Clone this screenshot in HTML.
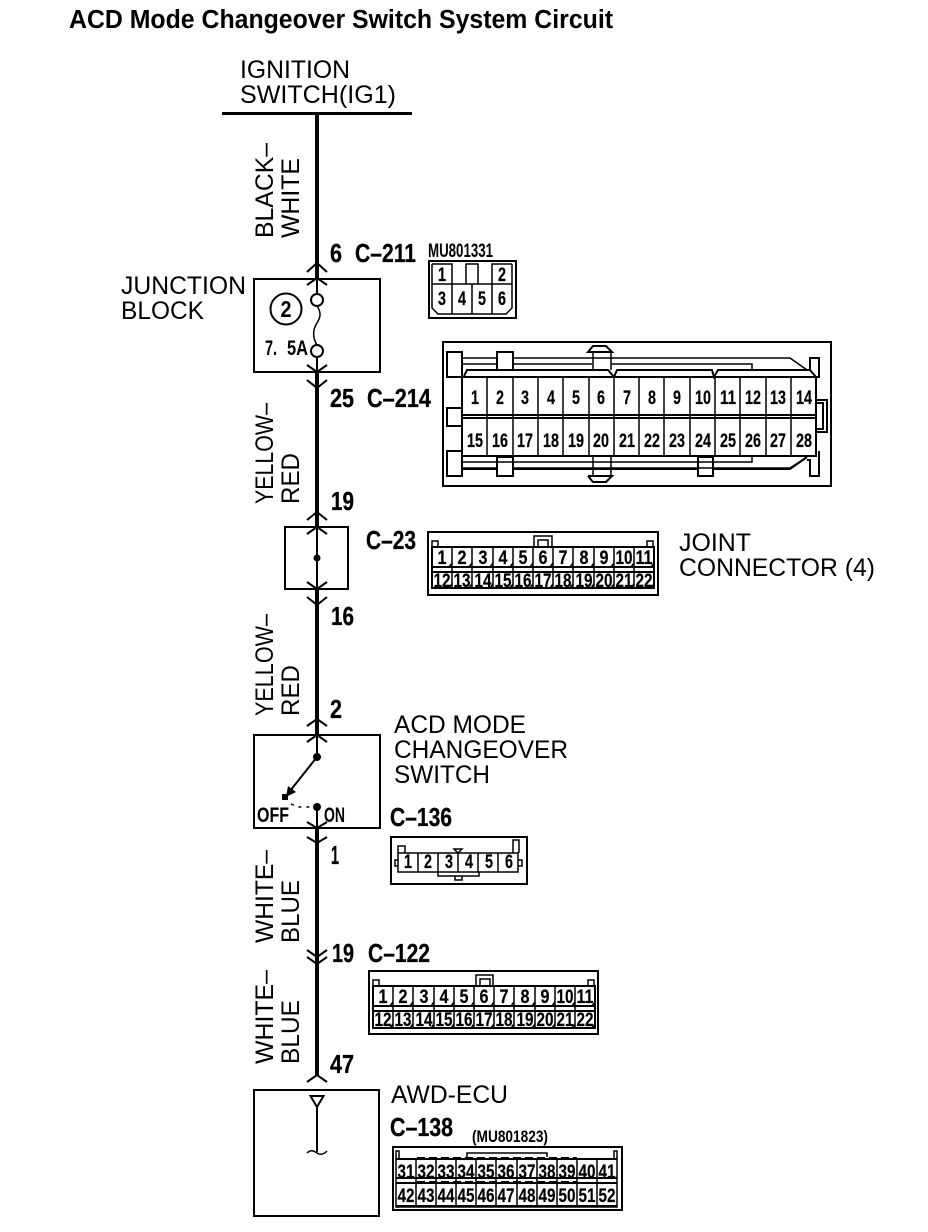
<!DOCTYPE html>
<html>
<head>
<meta charset="utf-8">
<title>ACD Mode Changeover Switch System Circuit</title>
<style>
html,body{margin:0;padding:0;background:#fff;width:928px;height:1232px;overflow:hidden}
svg{display:block}
text{font-family:"Liberation Sans",sans-serif;fill:#000}
.t{font-size:25px;font-weight:400}
.b{font-size:26px;font-weight:700;stroke:#000;stroke-width:.3}
.d{font-size:19px;font-weight:700;text-anchor:middle;stroke:#000;stroke-width:.2}
.s{font-size:17px;font-weight:700}
.n{font-size:21px;font-weight:700}
.l{fill:none;stroke:#000;stroke-width:1.5}
.m{fill:none;stroke:#000;stroke-width:2}
.h{fill:none;stroke:#000;stroke-width:2.5}
</style>
</head>
<body>
<svg width="928" height="1232" viewBox="0 0 928 1232" xmlns="http://www.w3.org/2000/svg">
<rect width="928" height="1232" fill="#fff"/>

<text x="69" y="28" font-size="25.5" font-weight="700" textLength="544" lengthAdjust="spacingAndGlyphs">ACD Mode Changeover Switch System Circuit</text>

<!-- top -->
<text class="t" x="240" y="78" textLength="110" lengthAdjust="spacingAndGlyphs">IGNITION</text>
<text class="t" x="240" y="103" textLength="156" lengthAdjust="spacingAndGlyphs">SWITCH(IG1)</text>
<rect x="222" y="112" width="190" height="3"/>

<!-- main wire segments -->
<rect x="315" y="113" width="4" height="165"/>
<rect x="315" y="372" width="4" height="155"/>
<rect x="315" y="589" width="4" height="145"/>
<rect x="315" y="828" width="4" height="247"/>

<!-- rotated labels -->
<text class="t" transform="translate(273,238) rotate(-90)" textLength="95" lengthAdjust="spacingAndGlyphs">BLACK–</text>
<text class="t" transform="translate(299,238) rotate(-90)" textLength="80" lengthAdjust="spacingAndGlyphs">WHITE</text>
<text class="t" transform="translate(273,504) rotate(-90)" textLength="101" lengthAdjust="spacingAndGlyphs">YELLOW–</text>
<text class="t" transform="translate(299,504) rotate(-90)" textLength="51" lengthAdjust="spacingAndGlyphs">RED</text>
<text class="t" transform="translate(273,716) rotate(-90)" textLength="102" lengthAdjust="spacingAndGlyphs">YELLOW–</text>
<text class="t" transform="translate(299,716) rotate(-90)" textLength="51" lengthAdjust="spacingAndGlyphs">RED</text>
<text class="t" transform="translate(273,943) rotate(-90)" textLength="93" lengthAdjust="spacingAndGlyphs">WHITE–</text>
<text class="t" transform="translate(299,943) rotate(-90)" textLength="63" lengthAdjust="spacingAndGlyphs">BLUE</text>
<text class="t" transform="translate(273,1064) rotate(-90)" textLength="94" lengthAdjust="spacingAndGlyphs">WHITE–</text>
<text class="t" transform="translate(299,1064) rotate(-90)" textLength="64" lengthAdjust="spacingAndGlyphs">BLUE</text>

<!-- pin labels -->
<text class="b" x="330" y="262" textLength="12" lengthAdjust="spacingAndGlyphs">6</text>
<text class="b" x="355" y="262" textLength="61" lengthAdjust="spacingAndGlyphs">C–211</text>
<text class="b" x="330" y="407" textLength="24" lengthAdjust="spacingAndGlyphs">25</text>
<text class="b" x="367" y="407" textLength="64" lengthAdjust="spacingAndGlyphs">C–214</text>
<text class="b" x="331" y="510" textLength="23" lengthAdjust="spacingAndGlyphs">19</text>
<text class="b" x="366" y="549" textLength="50" lengthAdjust="spacingAndGlyphs">C–23</text>
<text class="b" x="331" y="625" textLength="23" lengthAdjust="spacingAndGlyphs">16</text>
<text class="b" x="330" y="718" textLength="12" lengthAdjust="spacingAndGlyphs">2</text>
<text class="b" x="390" y="826" textLength="62" lengthAdjust="spacingAndGlyphs">C–136</text>
<text class="b" x="331" y="864" textLength="8" lengthAdjust="spacingAndGlyphs">1</text>
<text class="b" x="332" y="962" textLength="22" lengthAdjust="spacingAndGlyphs">19</text>
<text class="b" x="368" y="962" textLength="62" lengthAdjust="spacingAndGlyphs">C–122</text>
<text class="b" x="330" y="1073" textLength="24" lengthAdjust="spacingAndGlyphs">47</text>
<text class="b" x="390" y="1136" textLength="63" lengthAdjust="spacingAndGlyphs">C–138</text>

<!-- chevrons -->
<path class="m" d="M307 272L317 263L327 272M307 285L317 278L327 285M307 365L317 372L327 365M307 380L317 388L327 380"/>
<path class="m" d="M307 520L317 512L327 520M307 534L317 527L327 534M307 582L317 589L327 582M307 597L317 605L327 597"/>
<path class="m" d="M307 726L317 719L327 726M307 742L317 735L327 742M307 822L317 828L327 822M307 837L317 843L327 837"/>
<path class="m" d="M307 950L317 957L327 950M307 957L317 964L327 957M307 1082L317 1075L327 1082"/>

<!-- Junction block -->
<text class="t" x="121" y="294" textLength="125" lengthAdjust="spacingAndGlyphs">JUNCTION</text>
<text class="t" x="121" y="319" textLength="83" lengthAdjust="spacingAndGlyphs">BLOCK</text>
<rect class="m" x="254" y="279" width="126" height="93"/>
<circle class="m" cx="286" cy="309" r="15.5"/>
<text x="286" y="317" font-size="23" font-weight="700" text-anchor="middle" textLength="11" lengthAdjust="spacingAndGlyphs">2</text>
<text class="n" x="265" y="355" textLength="12" lengthAdjust="spacingAndGlyphs">7.</text>
<text class="n" x="287" y="355" textLength="21" lengthAdjust="spacingAndGlyphs">5A</text>
<circle class="m" cx="317" cy="300" r="6"/>
<circle class="m" cx="317" cy="351" r="6"/>
<path class="m" d="M317 278V294M317 357V372"/>
<path class="l" d="M317 306C322 313 320 318 317 323C313 329 312 337 317 345"/>

<!-- MU801331 connector -->
<text class="s" x="428" y="257" style="font-size:19px" textLength="65" lengthAdjust="spacingAndGlyphs">MU801331</text>
<rect class="m" x="429" y="261" width="87" height="57"/>
<path class="l" d="M432 264V308L438 314H506L512 308V264M432 264H452V284M492 284V264H512M432 284H512M452 284V314M472 284V314M492 284V314M466 284V264H478V284"/>
<text class="d" x="442" y="281" textLength="8" lengthAdjust="spacingAndGlyphs">1</text>
<text class="d" x="502" y="281" textLength="8" lengthAdjust="spacingAndGlyphs">2</text>
<text class="d" x="442" y="305" textLength="8" lengthAdjust="spacingAndGlyphs">3</text>
<text class="d" x="462" y="305" textLength="8" lengthAdjust="spacingAndGlyphs">4</text>
<text class="d" x="482" y="305" textLength="8" lengthAdjust="spacingAndGlyphs">5</text>
<text class="d" x="502" y="305" textLength="8" lengthAdjust="spacingAndGlyphs">6</text>

<!-- C-214 connector -->
<rect class="m" x="443" y="342" width="388" height="144"/>
<rect class="m" x="447" y="352" width="15" height="25"/>
<rect class="m" x="447" y="408" width="15" height="18"/>
<rect class="m" x="447" y="451" width="15" height="25"/>
<rect class="m" x="497" y="352" width="16" height="18"/>
<rect class="m" x="497" y="457" width="16" height="19"/>
<rect class="m" x="698" y="457" width="15" height="19"/>
<path class="l" d="M462 358H497M513 358H790L807 370M513 364H592M611 364H752V370M462 364H497"/>
<path class="l" d="M593 352V370M611 352V370M593 457V476M611 457V476"/>
<path class="m" d="M592 352H588L593 346H606L612 352H592M588 476L593 482H606L612 476H588"/>
<path class="m" d="M464 376L467 370H608L614 377L617 370H712L714 377L718 370H810L816 377"/>
<path class="m" d="M807 370H810V358H819V377H812"/>
<path class="m" d="M816 400H827V432H816M816 403H823V429H816"/>
<path class="m" d="M462 377H816V456H462Z"/>
<path class="m" d="M462 415H816M462 418H816"/>
<path class="l" d="M462 462H752V457M513 468H790L807 457M462 468H497"/>
<path class="m" d="M462 469H497M513 469H698M713 469H790L807 457M807 460H810V476H819V451"/>
<path class="l" d="M487 377V456M513 377V456M538 377V456M563 377V456M589 377V456M614 377V456M639 377V456M664 377V456M690 377V456M715 377V456M740 377V456M766 377V456M791 377V456"/>
<g>
<text class="d" x="475" y="404" textLength="8" lengthAdjust="spacingAndGlyphs">1</text>
<text class="d" x="500" y="404" textLength="8" lengthAdjust="spacingAndGlyphs">2</text>
<text class="d" x="525" y="404" textLength="8" lengthAdjust="spacingAndGlyphs">3</text>
<text class="d" x="551" y="404" textLength="8" lengthAdjust="spacingAndGlyphs">4</text>
<text class="d" x="576" y="404" textLength="8" lengthAdjust="spacingAndGlyphs">5</text>
<text class="d" x="601" y="404" textLength="8" lengthAdjust="spacingAndGlyphs">6</text>
<text class="d" x="627" y="404" textLength="8" lengthAdjust="spacingAndGlyphs">7</text>
<text class="d" x="652" y="404" textLength="8" lengthAdjust="spacingAndGlyphs">8</text>
<text class="d" x="677" y="404" textLength="8" lengthAdjust="spacingAndGlyphs">9</text>
<text class="d" x="703" y="404" textLength="16" lengthAdjust="spacingAndGlyphs">10</text>
<text class="d" x="728" y="404" textLength="16" lengthAdjust="spacingAndGlyphs">11</text>
<text class="d" x="753" y="404" textLength="16" lengthAdjust="spacingAndGlyphs">12</text>
<text class="d" x="778" y="404" textLength="16" lengthAdjust="spacingAndGlyphs">13</text>
<text class="d" x="804" y="404" textLength="16" lengthAdjust="spacingAndGlyphs">14</text>
<text class="d" x="475" y="447" textLength="16" lengthAdjust="spacingAndGlyphs">15</text>
<text class="d" x="500" y="447" textLength="16" lengthAdjust="spacingAndGlyphs">16</text>
<text class="d" x="525" y="447" textLength="16" lengthAdjust="spacingAndGlyphs">17</text>
<text class="d" x="551" y="447" textLength="16" lengthAdjust="spacingAndGlyphs">18</text>
<text class="d" x="576" y="447" textLength="16" lengthAdjust="spacingAndGlyphs">19</text>
<text class="d" x="601" y="447" textLength="16" lengthAdjust="spacingAndGlyphs">20</text>
<text class="d" x="627" y="447" textLength="16" lengthAdjust="spacingAndGlyphs">21</text>
<text class="d" x="652" y="447" textLength="16" lengthAdjust="spacingAndGlyphs">22</text>
<text class="d" x="677" y="447" textLength="16" lengthAdjust="spacingAndGlyphs">23</text>
<text class="d" x="703" y="447" textLength="16" lengthAdjust="spacingAndGlyphs">24</text>
<text class="d" x="728" y="447" textLength="16" lengthAdjust="spacingAndGlyphs">25</text>
<text class="d" x="753" y="447" textLength="16" lengthAdjust="spacingAndGlyphs">26</text>
<text class="d" x="778" y="447" textLength="16" lengthAdjust="spacingAndGlyphs">27</text>
<text class="d" x="804" y="447" textLength="16" lengthAdjust="spacingAndGlyphs">28</text>
</g>

<!-- C-23 block -->
<rect class="m" x="285" y="527" width="63" height="62"/>
<path class="m" d="M317 527V589"/>
<circle cx="317" cy="558" r="3.5"/>

<!-- C-23 connector -->
<g id="c23">
<rect class="m" x="428" y="532" width="230" height="63"/>
<path class="m" d="M432 547H654V588H432ZM432 567H654M432 572H654"/>
<path class="l" d="M432 547V541H438V547M647 547V541H653V547M534 547V536H552V547M538 547V540H548V547"/>
<path class="l" d="M452 547V588M472 547V588M493 547V588M513 547V588M533 547V588M553 547V588M573 547V588M594 547V588M614 547V588M634 547V588"/>
<path class="l" d="M449 567L452 563M469 567L472 563M490 567L493 563M510 567L513 563M530 567L533 563M550 567L553 563M570 567L573 563M591 567L594 563M611 567L614 563M631 567L634 563M651 567L654 563M449 588L452 584M469 588L472 584M490 588L493 584M510 588L513 584M530 588L533 584M550 588L553 584M570 588L573 584M591 588L594 584M611 588L614 584M631 588L634 584M651 588L654 584"/>
<text class="d" x="442" y="564" textLength="9" lengthAdjust="spacingAndGlyphs">1</text>
<text class="d" x="462" y="564" textLength="9" lengthAdjust="spacingAndGlyphs">2</text>
<text class="d" x="483" y="564" textLength="9" lengthAdjust="spacingAndGlyphs">3</text>
<text class="d" x="503" y="564" textLength="9" lengthAdjust="spacingAndGlyphs">4</text>
<text class="d" x="523" y="564" textLength="9" lengthAdjust="spacingAndGlyphs">5</text>
<text class="d" x="543" y="564" textLength="9" lengthAdjust="spacingAndGlyphs">6</text>
<text class="d" x="563" y="564" textLength="9" lengthAdjust="spacingAndGlyphs">7</text>
<text class="d" x="584" y="564" textLength="9" lengthAdjust="spacingAndGlyphs">8</text>
<text class="d" x="604" y="564" textLength="9" lengthAdjust="spacingAndGlyphs">9</text>
<text class="d" x="624" y="564" textLength="17" lengthAdjust="spacingAndGlyphs">10</text>
<text class="d" x="644" y="564" textLength="17" lengthAdjust="spacingAndGlyphs">11</text>
<text class="d" x="442" y="587" textLength="17" lengthAdjust="spacingAndGlyphs">12</text>
<text class="d" x="462" y="587" textLength="17" lengthAdjust="spacingAndGlyphs">13</text>
<text class="d" x="483" y="587" textLength="17" lengthAdjust="spacingAndGlyphs">14</text>
<text class="d" x="503" y="587" textLength="17" lengthAdjust="spacingAndGlyphs">15</text>
<text class="d" x="523" y="587" textLength="17" lengthAdjust="spacingAndGlyphs">16</text>
<text class="d" x="543" y="587" textLength="17" lengthAdjust="spacingAndGlyphs">17</text>
<text class="d" x="563" y="587" textLength="17" lengthAdjust="spacingAndGlyphs">18</text>
<text class="d" x="584" y="587" textLength="17" lengthAdjust="spacingAndGlyphs">19</text>
<text class="d" x="604" y="587" textLength="17" lengthAdjust="spacingAndGlyphs">20</text>
<text class="d" x="624" y="587" textLength="17" lengthAdjust="spacingAndGlyphs">21</text>
<text class="d" x="644" y="587" textLength="17" lengthAdjust="spacingAndGlyphs">22</text>
</g>
<text class="t" x="679" y="551" textLength="72" lengthAdjust="spacingAndGlyphs">JOINT</text>
<text class="t" x="679" y="576" textLength="196" lengthAdjust="spacingAndGlyphs">CONNECTOR (4)</text>

<!-- Switch block -->
<text class="t" x="394" y="733" textLength="132" lengthAdjust="spacingAndGlyphs">ACD MODE</text>
<text class="t" x="394" y="758" textLength="174" lengthAdjust="spacingAndGlyphs">CHANGEOVER</text>
<text class="t" x="394" y="783" textLength="96" lengthAdjust="spacingAndGlyphs">SWITCH</text>
<rect class="m" x="254" y="735" width="126" height="93"/>
<path class="m" d="M317 735V757M317 757L286 796M317 807V828"/>
<circle cx="317" cy="757" r="4"/>
<circle cx="317" cy="807" r="4"/>
<rect x="282" y="794" width="6" height="6"/>
<path d="M286 797L288 786L296 792Z"/>
<path class="l" stroke-dasharray="3 5" d="M291 804L298 807H313"/>
<text class="n" x="257" y="822" textLength="32" lengthAdjust="spacingAndGlyphs">OFF</text>
<text class="n" x="324" y="822" textLength="21" lengthAdjust="spacingAndGlyphs">ON</text>

<!-- C-136 connector -->
<rect class="m" x="391" y="837" width="136" height="47"/>
<path class="l" d="M398 853H518V872H398ZM418 853V872M438 853V872M458 853V872M478 853V872M498 853V872"/>
<path class="l" d="M398 853V846H405V853M513 853V840H519V853M398 860H395V866H398M518 860H522V866H518M454 849H462L458 853ZM438 872V876H479V872M455 876V880H462V876"/>
<text class="d" x="408" y="868" textLength="8" lengthAdjust="spacingAndGlyphs">1</text>
<text class="d" x="428" y="868" textLength="8" lengthAdjust="spacingAndGlyphs">2</text>
<text class="d" x="449" y="868" textLength="8" lengthAdjust="spacingAndGlyphs">3</text>
<text class="d" x="469" y="868" textLength="8" lengthAdjust="spacingAndGlyphs">4</text>
<text class="d" x="489" y="868" textLength="8" lengthAdjust="spacingAndGlyphs">5</text>
<text class="d" x="509" y="868" textLength="8" lengthAdjust="spacingAndGlyphs">6</text>

<!-- C-122 connector -->
<g>
<rect class="m" x="369" y="971" width="229" height="63"/>
<path class="m" d="M373 986H595V1028H373ZM373 1006H595M373 1011H595"/>
<path class="l" d="M373 986V980H379V986M588 986V980H594V986M476 986V975H493V986M480 986V979H490V986"/>
<path class="l" d="M393 986V1028M413 986V1028M434 986V1028M454 986V1028M474 986V1028M494 986V1028M514 986V1028M535 986V1028M555 986V1028M575 986V1028"/>
<path class="l" d="M390 1006L393 1002M410 1006L413 1002M431 1006L434 1002M451 1006L454 1002M471 1006L474 1002M491 1006L494 1002M511 1006L514 1002M532 1006L535 1002M552 1006L555 1002M572 1006L575 1002M592 1006L595 1002M390 1028L393 1024M410 1028L413 1024M431 1028L434 1024M451 1028L454 1024M471 1028L474 1024M491 1028L494 1024M511 1028L514 1024M532 1028L535 1024M552 1028L555 1024M572 1028L575 1024M592 1028L595 1024"/>
<text class="d" x="383" y="1003" textLength="9" lengthAdjust="spacingAndGlyphs">1</text>
<text class="d" x="403" y="1003" textLength="9" lengthAdjust="spacingAndGlyphs">2</text>
<text class="d" x="424" y="1003" textLength="9" lengthAdjust="spacingAndGlyphs">3</text>
<text class="d" x="444" y="1003" textLength="9" lengthAdjust="spacingAndGlyphs">4</text>
<text class="d" x="464" y="1003" textLength="9" lengthAdjust="spacingAndGlyphs">5</text>
<text class="d" x="484" y="1003" textLength="9" lengthAdjust="spacingAndGlyphs">6</text>
<text class="d" x="504" y="1003" textLength="9" lengthAdjust="spacingAndGlyphs">7</text>
<text class="d" x="525" y="1003" textLength="9" lengthAdjust="spacingAndGlyphs">8</text>
<text class="d" x="545" y="1003" textLength="9" lengthAdjust="spacingAndGlyphs">9</text>
<text class="d" x="565" y="1003" textLength="17" lengthAdjust="spacingAndGlyphs">10</text>
<text class="d" x="585" y="1003" textLength="17" lengthAdjust="spacingAndGlyphs">11</text>
<text class="d" x="383" y="1026" textLength="17" lengthAdjust="spacingAndGlyphs">12</text>
<text class="d" x="403" y="1026" textLength="17" lengthAdjust="spacingAndGlyphs">13</text>
<text class="d" x="424" y="1026" textLength="17" lengthAdjust="spacingAndGlyphs">14</text>
<text class="d" x="444" y="1026" textLength="17" lengthAdjust="spacingAndGlyphs">15</text>
<text class="d" x="464" y="1026" textLength="17" lengthAdjust="spacingAndGlyphs">16</text>
<text class="d" x="484" y="1026" textLength="17" lengthAdjust="spacingAndGlyphs">17</text>
<text class="d" x="504" y="1026" textLength="17" lengthAdjust="spacingAndGlyphs">18</text>
<text class="d" x="525" y="1026" textLength="17" lengthAdjust="spacingAndGlyphs">19</text>
<text class="d" x="545" y="1026" textLength="17" lengthAdjust="spacingAndGlyphs">20</text>
<text class="d" x="565" y="1026" textLength="17" lengthAdjust="spacingAndGlyphs">21</text>
<text class="d" x="585" y="1026" textLength="17" lengthAdjust="spacingAndGlyphs">22</text>
</g>

<!-- AWD-ECU -->
<rect class="m" x="254" y="1090" width="125" height="126"/>
<path class="m" d="M310.5 1096H323.5L317 1107ZM317 1107V1152"/>
<path class="l" d="M307 1153C311 1149 314 1151 317 1153C320 1155 323 1155 327 1151"/>
<text class="t" x="391" y="1103" textLength="117" lengthAdjust="spacingAndGlyphs">AWD-ECU</text>
<text class="s" x="472" y="1142" textLength="76" lengthAdjust="spacingAndGlyphs">(MU801823)</text>

<!-- C-138 connector -->
<g>
<rect class="m" x="393" y="1147" width="229" height="63"/>
<path class="l" d="M396 1159V1207H617V1159"/>
<path class="m" d="M396 1159H617M396 1178H617M396 1183H617M396 1206H617"/>
<path class="l" d="M396 1159V1151H399V1159M614 1159V1151H617V1159M467 1157V1153H547V1157"/>
<path class="l" d="M416 1159V1206M436 1159V1206M456 1159V1206M476 1159V1206M496 1159V1206M517 1159V1206M537 1159V1206M557 1159V1206M577 1159V1206M597 1159V1206"/>
<path class="m" stroke-dasharray="8 4" d="M417 1158H577M417 1182H577"/>
<text class="d" x="406" y="1178" textLength="17" lengthAdjust="spacingAndGlyphs">31</text>
<text class="d" x="426" y="1178" textLength="17" lengthAdjust="spacingAndGlyphs">32</text>
<text class="d" x="446" y="1178" textLength="17" lengthAdjust="spacingAndGlyphs">33</text>
<text class="d" x="466" y="1178" textLength="17" lengthAdjust="spacingAndGlyphs">34</text>
<text class="d" x="486" y="1178" textLength="17" lengthAdjust="spacingAndGlyphs">35</text>
<text class="d" x="506" y="1178" textLength="17" lengthAdjust="spacingAndGlyphs">36</text>
<text class="d" x="527" y="1178" textLength="17" lengthAdjust="spacingAndGlyphs">37</text>
<text class="d" x="547" y="1178" textLength="17" lengthAdjust="spacingAndGlyphs">38</text>
<text class="d" x="567" y="1178" textLength="17" lengthAdjust="spacingAndGlyphs">39</text>
<text class="d" x="587" y="1178" textLength="17" lengthAdjust="spacingAndGlyphs">40</text>
<text class="d" x="607" y="1178" textLength="17" lengthAdjust="spacingAndGlyphs">41</text>
<text class="d" x="406" y="1202" textLength="17" lengthAdjust="spacingAndGlyphs">42</text>
<text class="d" x="426" y="1202" textLength="17" lengthAdjust="spacingAndGlyphs">43</text>
<text class="d" x="446" y="1202" textLength="17" lengthAdjust="spacingAndGlyphs">44</text>
<text class="d" x="466" y="1202" textLength="17" lengthAdjust="spacingAndGlyphs">45</text>
<text class="d" x="486" y="1202" textLength="17" lengthAdjust="spacingAndGlyphs">46</text>
<text class="d" x="506" y="1202" textLength="17" lengthAdjust="spacingAndGlyphs">47</text>
<text class="d" x="527" y="1202" textLength="17" lengthAdjust="spacingAndGlyphs">48</text>
<text class="d" x="547" y="1202" textLength="17" lengthAdjust="spacingAndGlyphs">49</text>
<text class="d" x="567" y="1202" textLength="17" lengthAdjust="spacingAndGlyphs">50</text>
<text class="d" x="587" y="1202" textLength="17" lengthAdjust="spacingAndGlyphs">51</text>
<text class="d" x="607" y="1202" textLength="17" lengthAdjust="spacingAndGlyphs">52</text>
</g>
</svg>
</body>
</html>
